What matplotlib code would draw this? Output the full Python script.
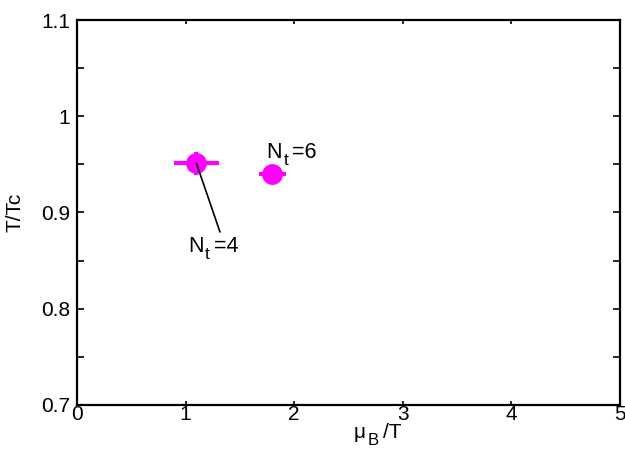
import matplotlib
matplotlib.use("Agg")
from matplotlib import pyplot as plt
from matplotlib.ticker import MultipleLocator
from matplotlib.transforms import offset_copy

plt.rcParams['font.family'] = ['Liberation Sans', 'DejaVu Sans']

# Data
mu_over_T = [1.1, 1.8]
mu_err = [0.21, 0.12]
T_over_Tc = [0.951, 0.940]
T_err = [0.012, 0.008]
label_pos = [(1.02, 0.859), (1.745, 0.957)]
label_nums = ['=4', '=6']

fig = plt.figure(figsize=(6.25, 4.5), dpi=100)
ax = fig.add_axes([77/625, 45/450, 543/625, 385/450])

ax.errorbar(mu_over_T, T_over_Tc, xerr=mu_err, yerr=T_err, fmt='o',
            color='magenta', ms=14, elinewidth=3, capsize=0, zorder=3)

# leader line from the N_t=4 point to its label
ax.plot([mu_over_T[0], 1.316], [T_over_Tc[0], 0.880], color='black', lw=1.2, zorder=4)


def sub_label(ax, x, y, main, sub, rest, size=14, transform=None):
    # draws main_sub rest, with a large, low subscript like the original
    fig = ax.figure
    r = fig.canvas.get_renderer()
    tr = ax.transData if transform is None else transform
    t1 = ax.text(x, y, main, fontsize=size, transform=tr, va='baseline')
    w1 = t1.get_window_extent(r).width * 72 / fig.dpi
    t2 = ax.text(x, y, sub, fontsize=size * 0.8,
                 transform=offset_copy(tr, fig=fig, x=w1 + 1, y=-5, units='points'),
                 va='baseline')
    w2 = t2.get_window_extent(r).width * 72 / fig.dpi
    ax.text(x, y, rest, fontsize=size,
            transform=offset_copy(tr, fig=fig, x=w1 + w2 + 4, y=0, units='points'),
            va='baseline')


for (lx, ly), num in zip(label_pos, label_nums):
    sub_label(ax, lx, ly, 'N', 't', num, size=15.5)

ax.set_xlim(0, 5)
ax.set_ylim(0.7, 1.1)
ax.set_xticks([0, 1, 2, 3, 4, 5])
ax.set_yticks([0.7, 0.8, 0.9, 1.0, 1.1])
ax.set_yticklabels(['0.7', '0.8', '0.9', '1', '1.1'])
ax.yaxis.set_minor_locator(MultipleLocator(0.05))
ax.tick_params(which='both', direction='in', top=True, right=True, labelsize=15)
ax.tick_params(axis='x', which='major', length=3, width=1.2, pad=0)
ax.tick_params(axis='y', which='both', length=5, width=1.2, pad=5)
for s in ax.spines.values():
    s.set_linewidth(1.6)

ax.set_ylabel('T/Tc', fontsize=15, labelpad=12)

# x label: mu_B/T built from pieces so the subscript stays large
xl = fig.transFigure
sub_label(ax, 354/625, 12/450, '\u03bc', 'B', '/T', size=15, transform=xl)

fig.savefig('out.png', dpi=100)
